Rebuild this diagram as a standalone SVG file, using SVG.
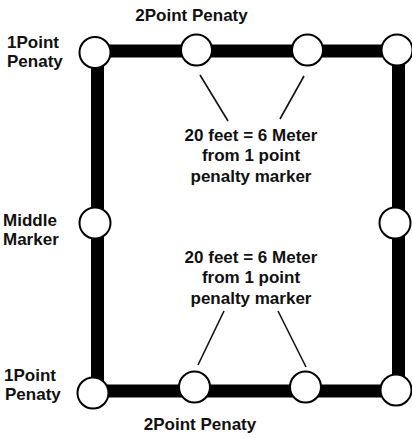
<svg xmlns="http://www.w3.org/2000/svg" width="412" height="438" viewBox="0 0 412 438">
<style>
.bar{stroke:#000;stroke-width:13;fill:none;stroke-linecap:butt}
.thin{stroke:#111;stroke-width:1.6;fill:none}
.mk{fill:#fff;stroke:#000;stroke-width:2}
text{font-family:"Liberation Sans",Arial,sans-serif;font-weight:bold;font-size:17px;fill:#111}
.c{text-anchor:middle}
</style>
<rect width="412" height="438" fill="#fff"/>
<g id="connectors">
<line class="bar" x1="95" y1="51" x2="397" y2="51"/>
<line class="bar" x1="97.5" y1="51" x2="97.5" y2="392"/>
<line class="bar" x1="398.5" y1="51" x2="398.5" y2="391"/>
<line class="bar" x1="93" y1="391" x2="396" y2="391"/>
<line class="thin" x1="200" y1="75" x2="228" y2="121"/>
<line class="thin" x1="304" y1="76" x2="280" y2="119"/>
<line class="thin" x1="224" y1="311" x2="198" y2="365"/>
<line class="thin" x1="278" y1="311" x2="306" y2="367"/>
</g>
<g id="corner-top-left"><circle class="mk" cx="95" cy="52.5" r="15.5"/></g>
<g id="two-point-top-1"><circle class="mk" cx="196.5" cy="50" r="15.5"/></g>
<g id="two-point-top-2"><circle class="mk" cx="307.5" cy="50" r="15.5"/></g>
<g id="corner-top-right"><circle class="mk" cx="397" cy="50" r="15.5"/></g>
<g id="middle-left"><circle class="mk" cx="95" cy="223" r="15.5"/></g>
<g id="middle-right"><circle class="mk" cx="395" cy="223" r="15.5"/></g>
<g id="corner-bottom-left"><circle class="mk" cx="93" cy="393" r="15.5"/></g>
<g id="two-point-bottom-1"><circle class="mk" cx="194.5" cy="387" r="15.5"/></g>
<g id="two-point-bottom-2"><circle class="mk" cx="305.5" cy="387" r="15.5"/></g>
<g id="corner-bottom-right"><circle class="mk" cx="396" cy="390" r="15.5"/></g>
<g id="labels">
<text class="c" x="191.5" y="21">2Point Penaty</text>
<text x="7" y="48">1Point</text>
<text x="7" y="67">Penaty</text>
<text x="3" y="226">Middle</text>
<text x="3" y="245">Marker</text>
<text x="4" y="381">1Point</text>
<text x="5" y="400">Penaty</text>
<text class="c" x="200" y="430">2Point Penaty</text>
<text class="c" x="251" y="141">20 feet = 6 Meter</text>
<text class="c" x="251" y="161">from 1 point</text>
<text class="c" x="251" y="182">penalty marker</text>
<text class="c" x="251" y="263">20 feet = 6 Meter</text>
<text class="c" x="251" y="283">from 1 point</text>
<text class="c" x="251" y="304">penalty marker</text>
</g>
</svg>
